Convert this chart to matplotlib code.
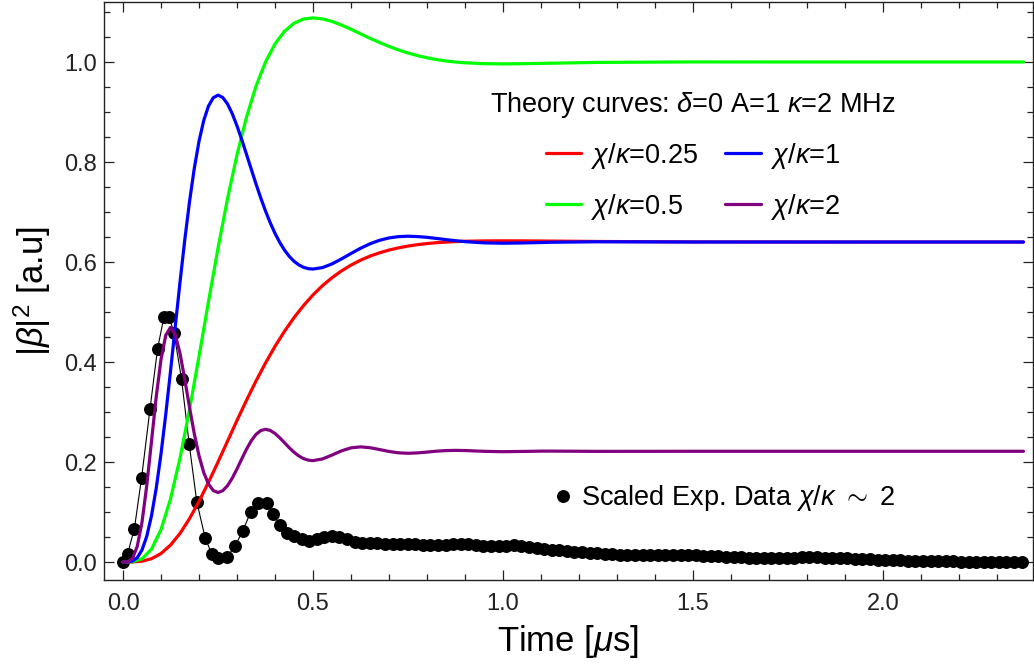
"""Cavity field |beta|^2 vs time: theory curves for several chi/kappa plus scaled experimental data."""
import matplotlib
matplotlib.use("Agg")  # no display
import matplotlib.pyplot as plt
import numpy as np
from matplotlib.lines import Line2D
from matplotlib.ticker import MultipleLocator

# --- theory curves -------------------------------------------------------
# slow curves (chi/kappa = 0.25 and 0.5)
t_slow = [0, 0.025, 0.05, 0.075, 0.1, 0.125, 0.15, 0.175, 0.2, 0.225, 0.25,
          0.275, 0.3, 0.325, 0.35, 0.375, 0.4, 0.425, 0.45, 0.475, 0.5,
          0.525, 0.55, 0.575, 0.6, 0.625, 0.65, 0.675, 0.7, 0.725, 0.75,
          0.775, 0.8, 0.825, 0.85, 0.875, 0.9, 0.95, 1.0, 1.05, 1.1, 1.125,
          1.25, 1.5, 2.0, 2.37]
red = [0, 0.00012, 0.0016, 0.00661, 0.01698, 0.03382, 0.05719, 0.08671,
       0.12121, 0.15947, 0.19997, 0.24154, 0.28315, 0.32339, 0.36195,
       0.39796, 0.43128, 0.46137, 0.48866, 0.51281, 0.53419, 0.55273,
       0.56855, 0.58223, 0.59376, 0.60359, 0.61176, 0.61838, 0.62388,
       0.62833, 0.63188, 0.63472, 0.6369, 0.63863, 0.6399, 0.64083, 0.64149,
       0.64221, 0.6424, 0.64227, 0.642, 0.64184, 0.64106, 0.64021, 0.64, 0.64]
green = [0, 0.00049, 0.00634, 0.02574, 0.06492, 0.12621, 0.20763, 0.30483,
         0.41137, 0.52092, 0.62742, 0.7264, 0.81458, 0.88976, 0.95154, 1.0,
         1.03616, 1.06149, 1.07746, 1.08589, 1.08827, 1.08622, 1.08122,
         1.07396, 1.06558, 1.0565, 1.04749, 1.03912, 1.03124, 1.02418,
         1.01808, 1.0128, 1.0085, 1.0049, 1.00212, 1.0, 0.99845, 0.99672,
         0.99627, 0.99658, 0.99722, 0.9976, 0.99922, 1.0002, 1.0, 1.0]

# fast curves (chi/kappa = 1 and 2), sampled finer over the first 0.5 us
t_fast = [0, 0.0125, 0.025, 0.0375, 0.05, 0.0625, 0.075, 0.0875, 0.1,
          0.1125, 0.125, 0.1375, 0.15, 0.1625, 0.175, 0.1875, 0.2, 0.2125,
          0.225, 0.2375, 0.25, 0.2625, 0.275, 0.2875, 0.3, 0.3125, 0.325,
          0.3375, 0.35, 0.3625, 0.375, 0.3875, 0.4, 0.4125, 0.425, 0.4375,
          0.45, 0.4625, 0.475, 0.4875, 0.5, 0.525, 0.55, 0.575, 0.6, 0.625,
          0.65, 0.675, 0.7, 0.725, 0.75, 0.775, 0.8, 0.825, 0.85, 0.875, 0.9,
          0.95, 1.0, 1.05, 1.1, 1.125, 1.25, 1.5, 2.0, 2.37]
blue = [0, 0.00014, 0.00195, 0.00872, 0.02419, 0.05155, 0.09271, 0.14802,
        0.21636, 0.29532, 0.38148, 0.4709, 0.55964, 0.64393, 0.7205, 0.78691,
        0.8414, 0.88317, 0.91199, 0.92854, 0.93377, 0.92906, 0.91618,
        0.89668, 0.87224, 0.84478, 0.81548, 0.7856, 0.75622, 0.72819,
        0.70211, 0.6784, 0.65738, 0.63918, 0.62385, 0.61137, 0.60156,
        0.59435, 0.58945, 0.58674, 0.5859, 0.58884, 0.59617, 0.60617,
        0.61701, 0.62745, 0.63642, 0.64338, 0.64814, 0.65077, 0.65157,
        0.6509, 0.64935, 0.64714, 0.6448, 0.64263, 0.64075, 0.63832, 0.6376,
        0.63808, 0.639, 0.63946, 0.6405, 0.64, 0.64, 0.64]
purple = [0, 0.00054, 0.00742, 0.03128, 0.07989, 0.153, 0.24159, 0.33095,
          0.40553, 0.45347, 0.4694, 0.45503, 0.4172, 0.36544, 0.30944,
          0.25686, 0.21256, 0.1788, 0.15588, 0.14298, 0.13894, 0.14257,
          0.15261, 0.1677, 0.18621, 0.20618, 0.22558, 0.24242, 0.25516,
          0.26291, 0.26543, 0.26317, 0.25708, 0.24843, 0.23855, 0.2286,
          0.21959, 0.21222, 0.20686, 0.20374, 0.20273, 0.20611, 0.21386,
          0.2223, 0.22828, 0.23026, 0.22863, 0.22497, 0.22107, 0.21839,
          0.21748, 0.21822, 0.21986, 0.22162, 0.22287, 0.22327, 0.22294,
          0.22138, 0.22063, 0.22114, 0.22175, 0.22183, 0.22129, 0.22145,
          0.22145, 0.22145]

theory_labels = [r"$\chi/\kappa$=0.25", r"$\chi/\kappa$=0.5",
                 r"$\chi/\kappa$=1", r"$\chi/\kappa$=2"]

# --- scaled experimental data ---------------------------------------------
exp_t_head = [0.0, 0.012, 0.030, 0.049, 0.071, 0.091, 0.108, 0.121, 0.134,
              0.154, 0.174, 0.194, 0.216, 0.233, 0.251, 0.275, 0.295, 0.315,
              0.336, 0.356, 0.378, 0.394, 0.413, 0.431]
exp_v_head = [0.0, 0.016, 0.067, 0.169, 0.306, 0.427, 0.491, 0.491, 0.459,
              0.366, 0.237, 0.121, 0.049, 0.017, 0.009, 0.011, 0.032, 0.062,
              0.100, 0.119, 0.119, 0.097, 0.074, 0.059]
# tail: evenly sampled from 0.45 to 2.365 us
exp_v_tail = [0.052, 0.046, 0.043, 0.047, 0.051, 0.052, 0.050, 0.046, 0.041,
              0.039, 0.038, 0.038, 0.037, 0.037, 0.036, 0.036, 0.036, 0.035,
              0.035, 0.034, 0.035, 0.036, 0.036, 0.036, 0.035, 0.033, 0.032,
              0.032, 0.033, 0.034, 0.033, 0.031, 0.028, 0.026, 0.025, 0.024,
              0.022, 0.021, 0.020, 0.019, 0.018, 0.017, 0.016, 0.015, 0.015,
              0.015, 0.014, 0.014, 0.014, 0.015, 0.015, 0.015, 0.014, 0.014,
              0.013, 0.012, 0.012, 0.011, 0.010, 0.010, 0.009, 0.009, 0.008,
              0.008, 0.008, 0.009, 0.009, 0.010, 0.010, 0.010, 0.009, 0.009,
              0.008, 0.008, 0.007, 0.006, 0.006, 0.005, 0.005, 0.004, 0.004,
              0.003, 0.003, 0.003, 0.002, 0.002, 0.002, 0.002, 0.001, 0.001,
              0.001, 0.001, 0.000, 0.000, 0.000, 0.000, 0.000]
exp_t = np.concatenate([exp_t_head, np.linspace(0.45, 2.365, len(exp_v_tail))])
exp_v = np.concatenate([exp_v_head, exp_v_tail])

# --- style -----------------------------------------------------------------
plt.rcParams["font.family"] = ["Liberation Sans", "DejaVu Sans"]
plt.rcParams["mathtext.fontset"] = "custom"
plt.rcParams["mathtext.rm"] = "Liberation Sans"
plt.rcParams["mathtext.it"] = "Liberation Sans:italic"

fig = plt.figure(figsize=(10.34, 6.71), dpi=100)
ax = fig.add_axes([0.1006, 0.1356, 0.8984, 0.8614])

ax.plot(exp_t, exp_v, color="black", lw=0.8, marker="o", ms=8.3, zorder=2)

lw = 2.3
line_kw = dict(lw=lw, solid_joinstyle="round", solid_capstyle="round")
h_red, = ax.plot(t_slow, red, color="#ff0000", zorder=3, **line_kw)
h_green, = ax.plot(t_slow, green, color="#00ff00", zorder=4, **line_kw)
h_blue, = ax.plot(t_fast, blue, color="#0000ff", zorder=5, **line_kw)
h_purple, = ax.plot(t_fast, purple, color="#800080", zorder=6, **line_kw)

ax.set_xlim(-0.05, 2.395)
ax.set_ylim(-0.036, 1.12)
ax.xaxis.set_major_locator(MultipleLocator(0.5))
ax.xaxis.set_minor_locator(MultipleLocator(0.1))
ax.yaxis.set_major_locator(MultipleLocator(0.2))
ax.yaxis.set_minor_locator(MultipleLocator(0.05))
ax.tick_params(which="both", direction="in", top=True, right=True,
               colors="#222222", labelsize=17, width=0.9)
ax.tick_params(which="major", length=7)
ax.tick_params(which="minor", length=4)
ax.tick_params(axis="x", pad=9)
ax.tick_params(axis="y", pad=5)
for sp in ax.spines.values():
    sp.set_linewidth(1.0)
    sp.set_color("#222222")

ax.set_xlabel(r"Time [$\mu$s]", fontsize=25, labelpad=6)
ax.set_ylabel(r"$|\beta|^2$ [a.u]", fontsize=25, labelpad=8)

leg = ax.legend([h_red, h_green, h_blue, h_purple], theory_labels, ncol=2,
                title=r"Theory curves: $\delta$=0 A=1 $\kappa$=2 MHz",
                loc="upper left", bbox_to_anchor=(0.41, 0.858),
                frameon=False, fontsize=19.5, title_fontsize=19.5,
                handlelength=1.3, handletextpad=0.37, columnspacing=1.0,
                labelspacing=0.78, borderpad=0.2, borderaxespad=0)
ax.add_artist(leg)

exp_handle = Line2D([], [], color="black", marker="o", ls="none", ms=8.3)
ax.legend([exp_handle], [r"Scaled Exp. Data $\chi/\kappa$ $\sim$ 2"],
          loc="upper left", bbox_to_anchor=(0.477, 0.1765), frameon=False,
          fontsize=19.5, handlelength=0.8, handletextpad=0.25,
          borderpad=0.2, borderaxespad=0)

fig.savefig("out.png", dpi=100)
plt.close(fig)
